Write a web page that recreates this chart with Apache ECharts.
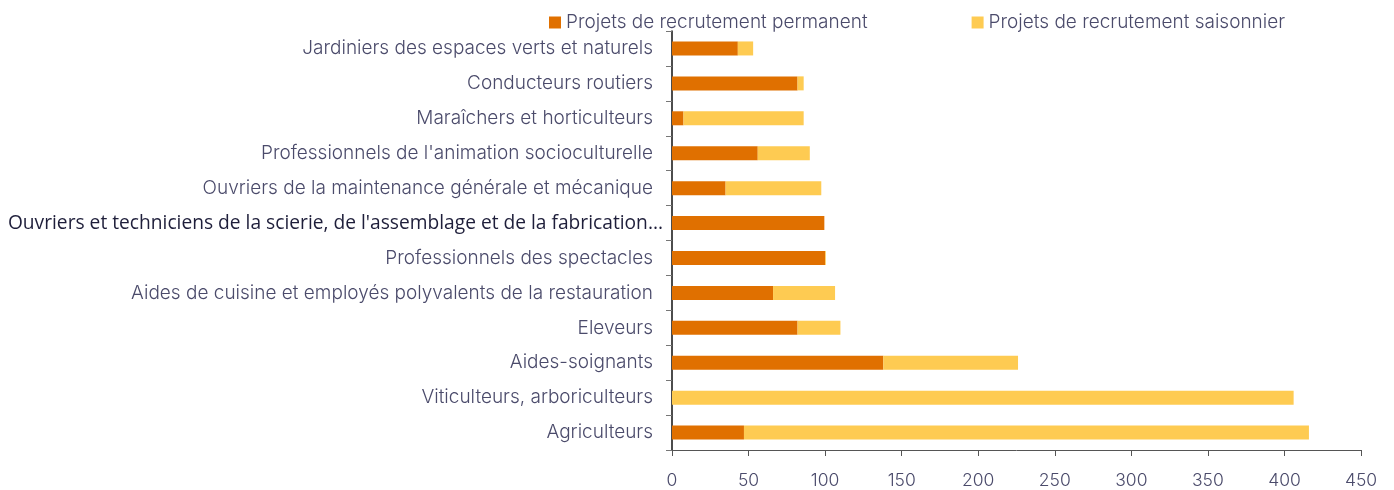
<!DOCTYPE html>
<html>
<head>
<meta charset="utf-8">
<script src="https://cdn.jsdelivr.net/npm/echarts@6/dist/echarts.min.js"></script>
<style>
  html, body { margin: 0; padding: 0; background: #fff; }
  #chart { width: 1394px; height: 490px; }
</style>
</head>
<body>
<div id="chart"></div>
<script>
  // métiers, du haut vers le bas
  const categories = [
    'Jardiniers des espaces verts et naturels',
    'Conducteurs routiers',
    'Maraîchers et horticulteurs',
    "Professionnels de l'animation socioculturelle",
    'Ouvriers de la maintenance générale et mécanique',
    "Ouvriers et techniciens de la scierie, de l'assemblage et de la fabrication...",
    'Professionnels des spectacles',
    'Aides de cuisine et employés polyvalents de la restauration',
    'Eleveurs',
    'Aides-soignants',
    'Viticulteurs, arboriculteurs',
    'Agriculteurs'
  ]
  const permanent = [43, 82, 7.5, 56, 35, 99.5, 100, 66, 82, 138, 0, 47]
  const saisonnier = [10, 4, 78.5, 34, 62.5, 0, 0.5, 40.5, 28, 88, 406, 369]
  const xTicks = [0, 50, 100, 150, 200, 250, 300, 350, 400, 450]

  const mChart = echarts.init(document.getElementById('chart'))

  const labelFont = 'Inter'

  const options = {
    animation: false,
    textStyle: { fontFamily: labelFont },
    legend: {
      top: 8,
      left: 544,
      itemWidth: 12,
      itemHeight: 12,
      itemGap: 104,
      icon: 'rect',
      textStyle: { color: '#4b4b6b', fontSize: 19, fontWeight: 300, fontFamily: labelFont },
      data: ['Projets de recrutement permanent', 'Projets de recrutement saisonnier']
    },
    grid: { left: 672, right: 33, top: 31, bottom: 39 },
    xAxis: {
      type: 'value',
      min: xTicks[0],
      max: xTicks[xTicks.length - 1],
      interval: 50,
      splitLine: { show: false },
      axisLine: { show: true, lineStyle: { color: '#555', width: 1 } },
      axisTick: { show: true, length: 6, lineStyle: { color: '#555' } },
      axisLabel: { color: '#4b4b6b', fontSize: 17.5, fontWeight: 300, margin: 22, fontFamily: labelFont }
    },
    yAxis: {
      type: 'category',
      data: categories,
      inverse: true,
      axisLine: { show: true, lineStyle: { color: '#111', width: 1.5 } },
      axisTick: { show: true, length: 6, lineStyle: { color: '#777' } },
      axisLabel: {
        margin: 9,
        fontSize: 19,
        color: '#4b4b6b',
        formatter: function (v, i) {
          return i === 5 ? '{b|' + v + '}' : '{a|' + v + '}'
        },
        rich: {
          a: { fontSize: 19, fontWeight: 300, color: '#4b4b6b', fontFamily: labelFont, padding: [0, 10, 0, 0] },
          b: { fontSize: 19.2, color: '#1e1e3a', fontFamily: 'Open Sans' }
        }
      }
    },
    series: [
      {
        name: 'Projets de recrutement permanent',
        type: 'bar',
        stack: 'total',
        data: permanent,
        barWidth: 14,
        itemStyle: { color: '#e07000' }
      },
      {
        name: 'Projets de recrutement saisonnier',
        type: 'bar',
        stack: 'total',
        data: saisonnier,
        barWidth: 14,
        itemStyle: { color: '#fecb52' }
      }
    ]
  }

  mChart.setOption(options)
</script>
</body>
</html>
